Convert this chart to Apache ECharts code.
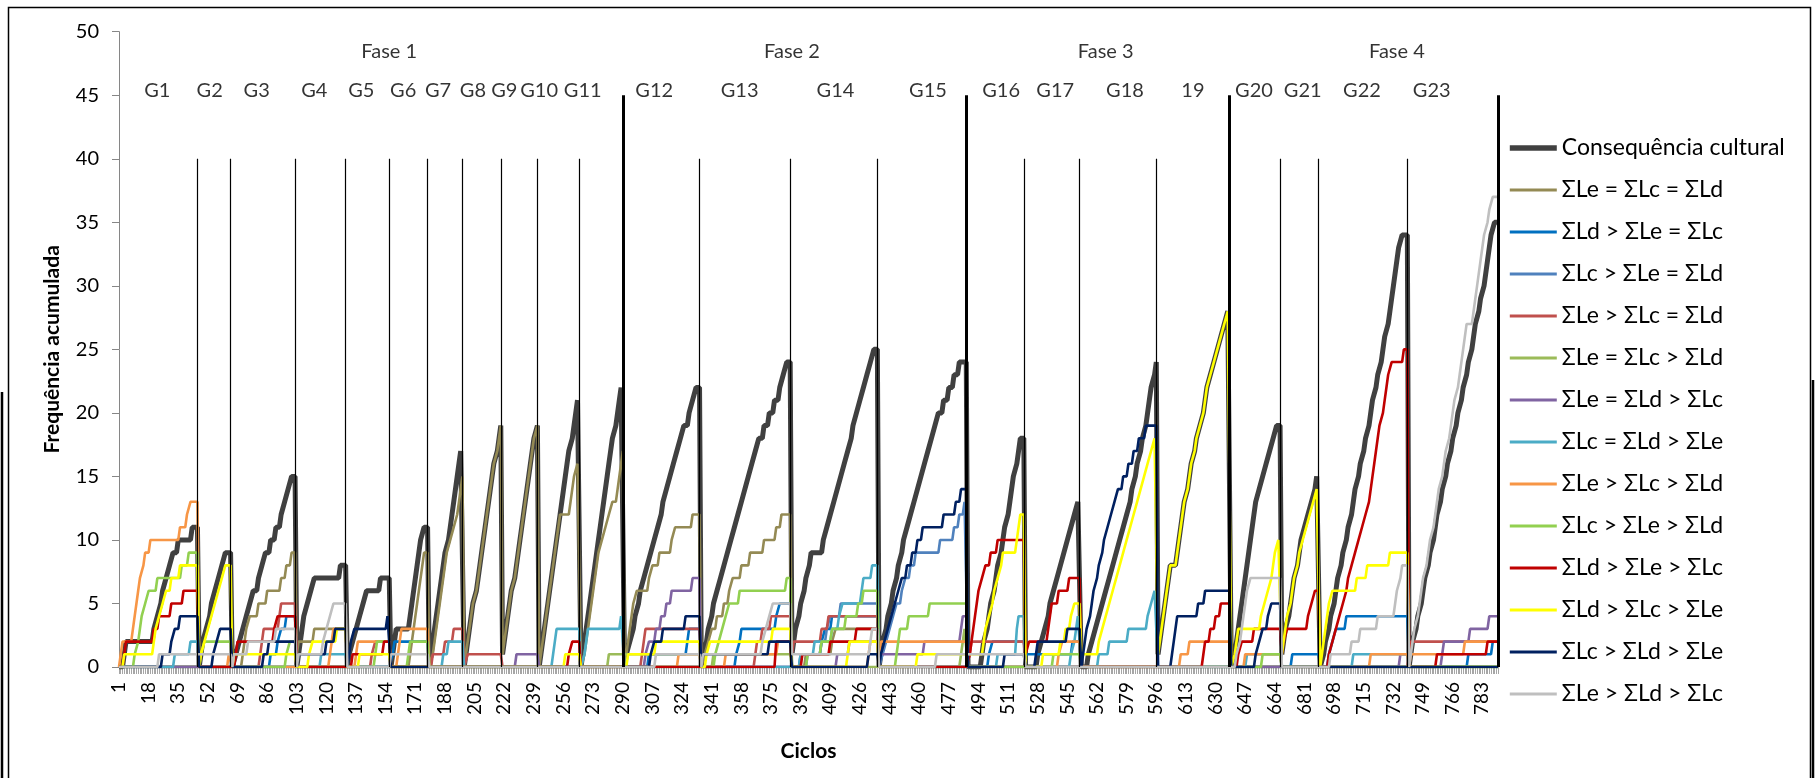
<!DOCTYPE html>
<html>
<head>
<meta charset="utf-8">
<script src="https://cdn.jsdelivr.net/npm/echarts@6/dist/echarts.min.js"></script>
<style>
html, body { margin: 0; padding: 0; background: #fff; }
#chart { width: 1816px; height: 778px; }
</style>
</head>
<body>
<div id="chart"></div>
<script>
// cycles 1..cycleCount, split in groups; each group ends at the cycle below
const cycleCount = 792;
const groupEnds = [46, 65, 102, 131, 156, 178, 198, 220, 241, 265, 290, 334, 386, 436, 487, 520, 552, 596, 638, 667, 689, 740, 792];
const phaseLastGroup = [10, 14, 18, 22];
const groupNames = ['G1', 'G2', 'G3', 'G4', 'G5', 'G6', 'G7', 'G8', 'G9', 'G10', 'G11', 'G12', 'G13', 'G14', 'G15', 'G16', 'G17', 'G18', '19', 'G20', 'G21', 'G22', 'G23'];
const groupLabelCycle = [23, 53, 80, 113, 140, 164, 184, 204, 222, 242, 267, 308, 357, 412, 465, 507, 538, 578, 617, 652, 680, 714, 754];
const phaseNames = ['Fase 1', 'Fase 2', 'Fase 3', 'Fase 4'];
const phaseLabelCycle = [156, 387, 567, 734];

// [cycle, accumulated frequency reached at that cycle]; counts restart at each group
const conseqCultural = [
  [4,1],[5,2],[21,3],[23,4],[25,5],[26,6],[28,7],[30,8],[32,9],[35,10],[43,11],
  [48,1],[49,2],[51,3],[53,4],[54,5],[56,6],[58,7],[60,8],[62,9],
  [68,1],[70,2],[72,3],[74,4],[76,5],[78,6],[81,7],[83,8],[85,9],[88,10],[91,11],[94,12],[96,13],[98,14],[100,15],
  [104,1],[105,2],[106,3],[107,4],[109,5],[111,6],[113,7],[128,8],
  [133,1],[135,2],[137,3],[139,4],[141,5],[143,6],[151,7],
  [158,1],[159,2],[160,3],[168,4],[169,5],[170,6],[171,7],[172,8],[173,9],[174,10],[176,11],
  [180,1],[181,2],[182,3],[183,4],[184,5],[185,6],[186,7],[187,8],[188,9],[190,10],[191,11],[192,12],[193,13],[194,14],[195,15],[196,16],[197,17],
  [200,1],[201,2],[202,3],[203,4],[204,5],[206,6],[207,7],[208,8],[209,9],[210,10],[211,11],[212,12],[213,13],[214,14],[215,15],[216,16],[218,17],[219,18],[220,19],
  [221,1],[222,2],[223,3],[224,4],[225,5],[226,6],[228,7],[229,8],[230,9],[231,10],[232,11],[233,12],[234,13],[235,14],[236,15],[237,16],[238,17],[239,18],[241,19],
  [243,1],[244,2],[245,3],[246,4],[247,5],[248,6],[249,7],[250,8],[251,9],[252,10],[253,11],[254,12],[255,13],[256,14],[257,15],[258,16],[259,17],[261,18],[262,19],[263,20],[264,21],
  [267,1],[268,2],[269,3],[270,4],[271,5],[272,6],[273,7],[274,8],[275,9],[276,10],[277,11],[278,12],[279,13],[280,14],[281,15],[282,16],[283,17],[284,18],[286,19],[287,20],[288,21],[289,22],
  [292,1],[294,2],[296,3],[297,4],[299,5],[300,6],[302,7],[304,8],[306,9],[308,10],[310,11],[312,12],[313,13],[315,14],[317,15],[319,16],[321,17],[323,18],[325,19],[328,20],[330,21],[332,22],
  [336,1],[338,2],[339,3],[341,4],[342,5],[344,6],[346,7],[348,8],[350,9],[352,10],[354,11],[356,12],[358,13],[360,14],[362,15],[364,16],[366,17],[368,18],[371,19],[374,20],[377,21],[380,22],[382,23],[384,24],
  [387,1],[388,2],[389,3],[391,4],[392,5],[394,6],[395,7],[397,8],[398,9],[405,10],[407,11],[409,12],[411,13],[413,14],[415,15],[417,16],[419,17],[421,18],[422,19],[424,20],[426,21],[428,22],[430,23],[432,24],[434,25],
  [438,1],[439,2],[441,3],[442,4],[444,5],[445,6],[447,7],[448,8],[450,9],[451,10],[453,11],[455,12],[457,13],[459,14],[461,15],[463,16],[465,17],[467,18],[469,19],[471,20],[474,21],[477,22],[480,23],[483,24],
  [496,1],[497,2],[499,3],[500,4],[501,5],[503,6],[504,7],[505,8],[507,9],[508,10],[509,11],[511,12],[512,13],[513,14],[514,15],[516,16],[517,17],[518,18],
  [528,1],[530,2],[532,3],[534,4],[535,5],[537,6],[539,7],[541,8],[543,9],[545,10],[547,11],[549,12],[551,13],
  [557,1],[559,2],[561,3],[563,4],[565,5],[567,6],[569,7],[571,8],[573,9],[575,10],[577,11],[579,12],[581,13],[582,14],[584,15],[585,16],[587,17],[588,18],[590,19],[591,20],[592,21],[593,22],[595,23],[596,24],
  [597,1],[598,2],[599,3],[600,4],[601,5],[602,6],[603,7],[604,8],[608,9],[609,10],[610,11],[611,12],[612,13],[614,14],[615,15],[616,16],[618,17],[619,18],[621,19],[623,20],[624,21],[625,22],[627,23],[629,24],[631,25],[633,26],[635,27],[637,28],
  [641,1],[642,2],[643,3],[644,4],[645,5],[646,6],[647,7],[648,8],[649,9],[650,10],[651,11],[652,12],[653,13],[655,14],[657,15],[659,16],[661,17],[663,18],[665,19],
  [668,1],[669,2],[670,3],[672,4],[673,5],[674,6],[675,7],[677,8],[678,9],[679,10],[681,11],[683,12],[685,13],[687,14],[688,15],
  [692,1],[693,2],[695,3],[696,4],[698,5],[699,6],[700,7],[702,8],[703,9],[705,10],[706,11],[708,12],[709,13],[710,14],[712,15],[713,16],[715,17],[716,18],[718,19],[719,20],[720,21],[722,22],[723,23],[725,24],[726,25],[727,26],[729,27],[730,28],[731,29],[732,30],[733,31],[734,32],[735,33],[737,34],
  [742,1],[743,2],[745,3],[746,4],[748,5],[749,6],[750,7],[752,8],[753,9],[755,10],[756,11],[757,12],[759,13],[760,14],[762,15],[763,16],[765,17],[766,18],[768,19],[769,20],[771,21],[772,22],[774,23],[775,24],[777,25],[778,26],[779,27],[781,28],[782,29],[784,30],[785,31],[786,32],[787,33],[788,34],[790,35]
];
const leEqLcEqLd = [
  [72,1],[73,2],[74,3],[76,4],[81,5],[86,6],[94,7],[97,8],[100,9],
  [103,1],[104,2],[113,3],
  [168,1],[169,2],[170,3],[171,4],[172,5],[173,6],[174,7],[175,8],[176,9],
  [181,1],[182,2],[183,3],[184,4],[185,5],[186,6],[187,7],[188,8],[189,9],[191,10],[193,11],[195,12],[196,13],[197,14],[198,15],
  [200,1],[201,2],[202,3],[203,4],[204,5],[206,6],[207,7],[208,8],[209,9],[210,10],[211,11],[212,12],[213,13],[214,14],[215,15],[216,16],[218,17],[219,18],[220,19],
  [221,1],[222,2],[223,3],[224,4],[225,5],[226,6],[228,7],[229,8],[230,9],[231,10],[232,11],[233,12],[234,13],[235,14],[236,15],[237,16],[238,17],[239,18],[241,19],
  [243,1],[244,2],[245,3],[246,4],[247,5],[248,6],[249,7],[250,8],[251,9],[252,10],[253,11],[254,12],[260,13],[261,14],[262,15],[264,16],
  [268,1],[269,2],[270,3],[271,4],[272,5],[273,6],[274,7],[275,8],[276,9],[278,10],[280,11],[282,12],[284,13],[287,14],[288,15],[289,16],[290,17],
  [292,1],[293,2],[294,3],[295,4],[296,5],[298,6],[305,7],[307,8],[311,9],[318,10],[320,11],[330,12],
  [337,1],[339,2],[341,3],[344,4],[348,5],[351,6],[353,7],[358,8],[363,9],[371,10],[378,11],[381,12],
  [395,1],[410,2],[412,3]
];
const ldGtLeEqLc = [
  [88,1],[92,2],[94,3],[97,4],
  [158,1],[159,2],
  [305,1],[327,2],[328,3],
  [355,1],[357,2],[358,3],[378,4],[380,5],
  [392,1],[404,2],[406,3],[410,4],
  [500,1],[502,2],
  [521,1],[548,2],
  [674,1],
  [695,1],[697,2],[699,3],[705,4],
  [775,1],[789,2]
];
const lcGtLeEqLd = [
  [396,1],[404,2],[407,3],[409,4],[415,5],
  [439,1],[441,2],[443,3],[445,4],[447,5],[450,6],[452,7],[455,8],[458,9],[472,10],[480,11],[483,12],[486,13]
];
const leGtLcEqLd = [
  [82,1],[83,2],[84,3],[93,4],[94,5],
  [146,1],[148,2],
  [181,1],[188,2],[193,3],
  [201,1],
  [301,1],[302,2],[303,3],
  [366,1],[367,2],[370,3],[375,4],
  [387,1],[388,2],[404,3],[408,4],
  [489,1],[490,2],
  [741,1],[742,2]
];
const leEqLcGtLd = [
  [282,1],
  [291,1],
  [342,1],
  [484,1],[485,2],[486,3]
];
const leEqLdGtLc = [
  [229,1],
  [303,1],[305,2],[309,3],[312,4],[315,5],[318,6],[330,7],
  [413,1],[420,2],
  [437,1],[463,2],[484,3],[485,4],
  [736,1],
  [760,1],[761,2],[776,3],[787,4]
];
const lcEqLdGtLe = [
  [33,1],[42,2],
  [117,1],
  [187,1],[190,2],
  [250,1],[251,2],[252,3],
  [268,1],[269,2],[270,3],[289,4],
  [392,1],[400,2],[410,3],[414,4],[416,5],[427,6],[428,7],[433,8],
  [505,1],[516,3],[517,4],
  [547,1],[549,2],[550,3],[551,4],
  [563,1],[569,2],[580,3],[591,4],[593,5],[595,6],
  [648,1],
  [709,1]
];
const leGtLcGtLd = [
  [2,1],[3,2],[9,3],[10,4],[11,5],[12,6],[13,7],[15,8],[16,9],[19,10],[36,11],[40,12],[42,13],
  [64,1],
  [122,1],[123,2],[124,3],
  [137,1],[138,2],
  [161,1],[162,2],[163,3],
  [322,1],
  [349,1],[379,2],
  [431,1],[432,2],
  [437,1],[438,2],
  [540,1],[542,2],
  [610,1],[615,2],
  [647,1],
  [719,1],
  [742,1],[773,2]
];
const lcGtLeGtLd = [
  [10,1],[12,2],[13,3],[14,4],[16,5],[18,6],[23,7],[37,8],[41,9],
  [48,1],[50,2],
  [97,1],[99,2],
  [148,1],[149,2],
  [167,1],[168,2],
  [343,1],[345,2],[347,3],[349,4],[351,5],[357,6],[384,7],
  [396,1],[404,2],[410,3],[418,4],[425,5],[428,6],
  [447,1],[448,2],[449,3],[454,4],[466,5],
  [537,1],
  [657,1]
];
const ldGtLeGtLc = [
  [4,1],[5,2],[21,3],[24,4],[31,5],[38,6],
  [68,1],[69,2],[90,3],[92,4],
  [135,1],[153,2],
  [259,1],[261,2],
  [378,2],
  [393,1],[409,2],[424,3],
  [489,1],[490,2],[491,3],[492,4],[493,5],[494,6],[496,7],[498,8],[501,9],[505,10],
  [521,1],[523,2],[534,3],[535,4],[536,5],[540,6],[546,7],
  [623,1],[624,2],[627,3],[630,4],[633,5],
  [643,1],[645,2],[652,3],
  [668,1],[669,2],[671,3],[683,4],[685,5],[687,6],
  [695,1],[697,2],[699,3],[701,4],[703,5],[705,6],[706,7],[708,8],[710,9],[712,10],[714,11],[716,12],[718,13],[719,14],[720,15],[721,16],[722,17],[723,18],[724,19],[726,20],[727,21],[728,22],[729,23],[731,24],[738,25],
  [757,1],[786,2]
];
const ldGtLcGtLe = [
  [4,1],[21,2],[22,3],[24,4],[26,5],[28,6],[31,7],[36,8],
  [48,1],[50,2],[52,3],[54,4],[56,5],[58,6],[60,7],[62,8],
  [67,1],
  [110,1],[112,2],[126,3],
  [139,1],
  [257,1],
  [293,1],[309,2],
  [338,1],[340,2],[376,3],
  [419,1],[420,2],
  [459,1],
  [488,1],[497,2],[498,3],[500,4],[502,5],[503,6],[505,7],[507,8],[508,9],[516,10],[517,11],[518,12],
  [531,1],[541,2],[544,3],[547,4],[549,5],
  [553,1],[563,2],[565,3],[567,4],[569,5],[571,6],[573,7],[575,8],[577,9],[579,10],[581,11],[583,12],[585,13],[587,14],[589,15],[591,16],[593,17],[595,18],
  [597,1],[598,2],[599,3],[600,4],[601,5],[602,6],[603,7],[604,8],[608,9],[609,10],[610,11],[611,12],[612,13],[614,14],[615,15],[616,16],[618,17],[619,18],[621,19],[623,20],[624,21],[625,22],[627,23],[629,24],[631,25],[633,26],[635,27],[637,28],
  [641,1],[642,2],[643,3],[656,4],[658,5],[660,6],[662,7],[663,8],[664,9],[666,10],
  [668,1],[669,2],[670,3],[671,4],[673,5],[674,6],[675,7],[677,8],[678,9],[680,10],[682,11],[684,12],[686,13],[688,14],
  [691,1],[692,2],[693,3],[694,4],[695,5],[697,6],[711,7],[717,8],[730,9]
];
const lcGtLdGtLe = [
  [26,1],[31,2],[33,3],[36,4],
  [55,1],[57,2],[59,3],
  [84,1],[87,2],
  [104,1],[120,2],[125,3],
  [133,1],[134,2],[136,3],[155,4],
  [306,1],[308,2],[313,3],[326,4],
  [336,1],[374,2],
  [431,1],
  [438,1],[440,2],[442,3],[444,4],[446,5],[448,6],[450,7],[453,8],[456,9],[459,10],[462,11],[474,12],[481,13],[484,14],
  [509,1],
  [527,1],[528,2],[545,3],
  [554,1],[555,2],[556,3],[558,4],[559,5],[560,6],[562,7],[563,8],[565,9],[566,10],[568,11],[570,12],[572,13],[574,14],[577,15],[580,16],[583,17],[586,18],[590,19],
  [605,1],[606,2],[607,3],[608,4],[620,5],[624,6],
  [653,1],[655,2],[657,3],[660,4],[662,5]
];
const leGtLdGtLc = [
  [24,1],
  [47,1],
  [67,1],[75,2],[91,3],
  [104,1],[118,2],[120,3],[122,4],[124,5],
  [157,1],
  [309,1],
  [336,1],[370,2],[372,3],[374,4],[376,5],
  [387,1],[432,2],[433,3],
  [470,1],
  [488,1],
  [642,1],[644,2],[645,3],[646,4],[647,5],[648,6],[650,7],
  [696,1],[708,2],[713,3],[723,4],[733,5],[734,6],[736,7],[737,8],
  [742,1],[743,2],[744,3],[746,4],[747,5],[748,6],[749,7],[751,8],[752,9],[753,10],[755,11],[756,12],[757,13],[758,14],[760,15],[761,16],[762,17],[764,18],[765,19],[766,20],[767,21],[769,22],[770,23],[771,24],[772,25],[773,26],[774,27],[778,28],[779,29],[780,30],[781,31],[782,32],[783,33],[784,34],[786,35],[787,36],[789,37]
];

const seriesDefs = [
  ['Consequência cultural', '#404040', 5, conseqCultural],
  ['ΣLe = ΣLc = ΣLd', '#948A54', 2.6, leEqLcEqLd],
  ['ΣLd > ΣLe = ΣLc', '#0070C0', 2.6, ldGtLeEqLc],
  ['ΣLc > ΣLe = ΣLd', '#4F81BD', 2.6, lcGtLeEqLd],
  ['ΣLe > ΣLc = ΣLd', '#C0504D', 2.6, leGtLcEqLd],
  ['ΣLe = ΣLc > ΣLd', '#9BBB59', 2.6, leEqLcGtLd],
  ['ΣLe = ΣLd > ΣLc', '#8064A2', 2.6, leEqLdGtLc],
  ['ΣLc = ΣLd > ΣLe', '#4BACC6', 2.6, lcEqLdGtLe],
  ['ΣLe > ΣLc > ΣLd', '#F79646', 2.6, leGtLcGtLd],
  ['ΣLc > ΣLe > ΣLd', '#92D050', 2.6, lcGtLeGtLd],
  ['ΣLd > ΣLe > ΣLc', '#C00000', 2.6, ldGtLeGtLc],
  ['ΣLd > ΣLc > ΣLe', '#FFFF00', 2.6, ldGtLcGtLe],
  ['ΣLc > ΣLd > ΣLe', '#002060', 2.6, lcGtLdGtLe],
  ['ΣLe > ΣLd > ΣLc', '#BFBFBF', 2.6, leGtLdGtLc],
];

// turn the step events into the points of an excel-like line (one point per change)
function buildLine(events) {
  const pts = [];
  let gStart = 1;
  groupEnds.forEach(gEnd => {
    let prev = 0, last = gStart;
    pts.push([gStart, 0]);
    events.filter(e => e[0] >= gStart && e[0] <= gEnd).forEach(([c, v]) => {
      if (c === gStart) { pts[pts.length - 1][1] = v; prev = v; return; }
      if (c - 1 > last) pts.push([c - 1, prev]);
      pts.push([c, v]);
      prev = v;
      last = c;
    });
    if (gEnd > last) pts.push([gEnd, prev]);
    gStart = gEnd + 1;
  });
  return pts.map(([c, v]) => [c - 1, v]);
}

const cycles = Array.from({ length: cycleCount }, (_, i) => String(i + 1));
const font = 'Lato, "Liberation Sans", sans-serif';

const separators = groupEnds.map((end, i) => {
  const thick = phaseLastGroup.includes(i);
  return [
    { coord: [end - 1, 0], lineStyle: { width: thick ? 3 : 1.2, color: '#000', type: 'solid' } },
    { coord: [end - 1, thick ? 45 : 40] },
  ];
});

const chart = echarts.init(document.getElementById('chart'));
chart.setOption({
  animation: false,
  backgroundColor: '#fff',
  graphic: [
    { type: 'rect', shape: { x: 8.5, y: 7.5, width: 1802, height: 800 }, style: { fill: 'none', stroke: '#000', lineWidth: 1.5 }, silent: true },
    { type: 'line', shape: { x1: 2, y1: 392, x2: 2, y2: 778 }, style: { stroke: '#000', lineWidth: 2.5 }, silent: true },
    { type: 'line', shape: { x1: 1813, y1: 380, x2: 1813, y2: 778 }, style: { stroke: '#000', lineWidth: 2.5 }, silent: true },
  ],
  grid: { left: 119, right: 318, top: 31.7, bottom: 111, containLabel: false },
  legend: {
    orient: 'vertical',
    left: 1502,
    top: 131,
    itemWidth: 47,
    itemHeight: 14,
    itemGap: 18,
    itemStyle: { opacity: 0 },
    textStyle: { fontSize: 23, lineHeight: 24, fontFamily: font, color: '#000' },
    data: seriesDefs.map(([name, color, width]) => ({ name, lineStyle: { color, width: width + 0.6 } })),
  },
  xAxis: {
    type: 'category',
    data: cycles,
    boundaryGap: false,
    name: 'Ciclos',
    nameLocation: 'middle',
    nameGap: 74,
    nameTextStyle: { fontSize: 21, fontWeight: 'bold', fontFamily: font, color: '#000' },
    axisLine: { lineStyle: { color: '#868686', width: 1 } },
    axisTick: { interval: 0, length: 7, lineStyle: { color: '#a6a6a6', width: 1 } },
    axisLabel: { interval: 16, rotate: 90, margin: 15, fontSize: 19, fontFamily: font, color: '#000' },
    splitLine: { show: false },
  },
  yAxis: {
    type: 'value',
    min: 0,
    max: 50,
    interval: 5,
    name: 'Frequência acumulada',
    nameLocation: 'middle',
    nameGap: 56,
    nameTextStyle: { fontSize: 21, fontWeight: 'bold', fontFamily: font, color: '#000' },
    axisLine: { show: true, lineStyle: { color: '#868686', width: 1 } },
    axisTick: { show: true, length: 7, lineStyle: { color: '#868686' } },
    axisLabel: { margin: 20, fontSize: 20, fontFamily: font, color: '#000' },
    splitLine: { show: false },
  },
  series: [
    ...seriesDefs.map(([name, color, width, events]) => ({
      name,
      type: 'line',
      data: buildLine(events),
      symbol: 'none',
      color,
      lineStyle: { color, width },
      silent: true,
    })),
    {
      type: 'scatter',
      symbolSize: 0,
      silent: true,
      z: 10,
      data: [
        ...groupNames.map((n, i) => [groupLabelCycle[i] - 1, 45.4, n]),
        ...phaseNames.map((n, i) => [phaseLabelCycle[i] - 1, 48.4, n]),
      ],
      label: {
        show: true,
        position: 'inside',
        formatter: p => p.data[2],
        fontSize: 20,
        fontFamily: font,
        color: '#000',
      },
      markLine: {
        silent: true,
        symbol: ['none', 'none'],
        label: { show: false },
        lineStyle: { type: 'solid' },
        data: separators,
      },
    },
  ],
});
</script>
</body>
</html>
